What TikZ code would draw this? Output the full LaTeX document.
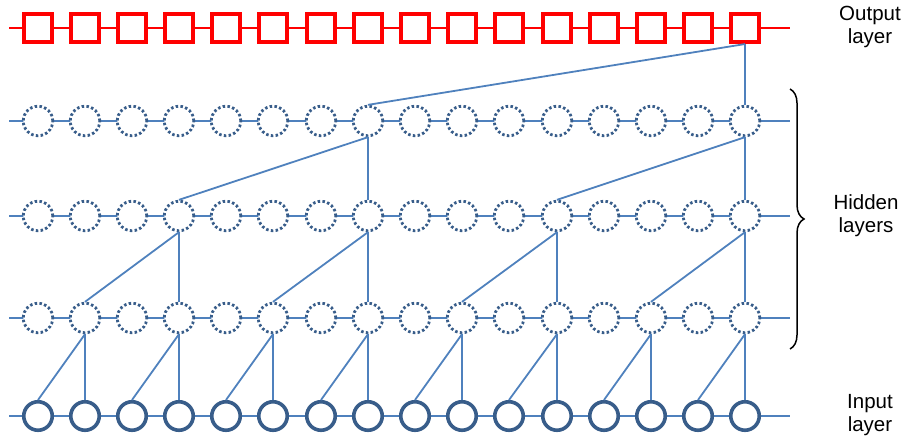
\documentclass[tikz,border=0pt]{standalone}
\usepackage{fontspec}
\setmainfont{Liberation Sans}
\usetikzlibrary{decorations.pathreplacing}
\definecolor{linkblue}{HTML}{4F81BD}
\definecolor{nodeblue}{HTML}{385D8A}
\tikzset{
  hid/.style={circle, draw=nodeblue, line width=2.8pt, dash pattern=on 2.5pt off 2.3pt,
    fill=white, minimum size=29.5pt, inner sep=0pt},
  inp/.style={circle, draw=nodeblue, line width=3.6pt, fill=white, minimum size=28.5pt, inner sep=0pt},
  outp/.style={rectangle, draw=red, line width=3.6pt, fill=white, minimum size=28.5pt, inner sep=0pt},
  chainblue/.style={draw=linkblue, line width=2pt},
  chainred/.style={draw=red, line width=2pt},
  link/.style={draw=linkblue, line width=1.8pt},
  lbl/.style={align=center, font=\fontsize{20.5}{23}\selectfont, inner sep=0pt},
}
\begin{document}
\begin{tikzpicture}[x=1pt,y=-1pt]
\useasboundingbox (0,0) rectangle (904,441);

% free ends of the row lines
\foreach \r/\y in {o/28, a/121, b/216, c/318, i/416} {
  \coordinate (\r L) at (9,\y);
  \coordinate (\r R) at (790,\y);
}

% row lines run behind the units
\draw[chainred] (oL) -- (oR);
\foreach \r in {a,b,c,i} {
  \draw[chainblue] (\r L) -- (\r R);
}

% five rows of sixteen units each
\foreach \k in {0,...,15} {
  \pgfmathsetmacro\x{round(37.5+47.2*\k)}
  \node[outp] (o\k) at (\x,28) {};
  \node[hid]  (a\k) at (\x,121) {};
  \node[hid]  (b\k) at (\x,216) {};
  \node[hid]  (c\k) at (\x,318) {};
  \node[inp]  (i\k) at (\x,416) {};
}

% dilation 1: input -> third hidden layer
\foreach \k in {1,3,...,15} {
  \pgfmathtruncatemacro\m{\k-1}
  \draw[link] (c\k.south) -- (i\k.north);
  \draw[link] (c\k.south) -- (i\m.north);
}
% dilation 2: third -> second hidden layer
\foreach \k in {3,7,11,15} {
  \pgfmathtruncatemacro\m{\k-2}
  \draw[link] (b\k.south) -- (c\k.north);
  \draw[link] (b\k.south) -- (c\m.north);
}
% dilation 4: second -> first hidden layer
\foreach \k in {7,15} {
  \pgfmathtruncatemacro\m{\k-4}
  \draw[link] (a\k.south) -- (b\k.north);
  \draw[link] (a\k.south) -- (b\m.north);
}
% dilation 8: first hidden layer -> output
\draw[link] (o15.south) -- (a15.north);
\draw[link] (o15.south) -- (a7.north);

% brace over the hidden layers
\coordinate (bt) at (790,89);
\coordinate (bb) at (790,349);
\draw[line width=1.5pt, decorate, decoration={brace, amplitude=14pt}] (bt) -- (bb);

% layer names
\node[lbl] (tout) at (870,27) {Output\\layer};
\node[lbl] (thid) at (866,216) {Hidden\\layers};
\node[lbl] (tin)  at (870,415) {Input\\layer};
\end{tikzpicture}
\end{document}
